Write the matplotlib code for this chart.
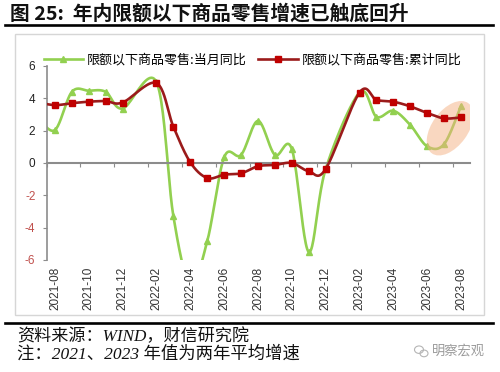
import numpy as np
import matplotlib
matplotlib.use("Agg")
from matplotlib import pyplot as plt
from matplotlib.lines import Line2D
from matplotlib.patches import Ellipse, Rectangle
from matplotlib.transforms import IdentityTransform

plt.rcParams['font.family'] = ['Liberation Sans', 'Noto Sans CJK SC', 'DejaVu Sans']

# monthly categories, 2021-07 sits just outside the left edge
months = ['2021-07', '2021-08', '2021-09', '2021-10', '2021-11', '2021-12',
          '2022-01', '2022-02', '2022-03', '2022-04', '2022-05', '2022-06',
          '2022-07', '2022-08', '2022-09', '2022-10', '2022-11', '2022-12',
          '2023-01', '2023-02', '2023-03', '2023-04', '2023-05', '2023-06',
          '2023-07', '2023-08']
# 当月同比 (Jan folded into Feb -> nan)
monthly = [2.8, 2.04, 4.4, 4.47, 4.4, 3.37,
           np.nan, 5.0, -3.3, -7.5, -4.84, 0.35,
           0.5, 2.6, 0.5, 0.86, -5.5, -0.37,
           np.nan, 4.36, 2.86, 3.23, 2.35, 1.03,
           1.17, 3.54]
# 累计同比
cumulative = [3.75, 3.58, 3.7, 3.79, 3.83, 3.74,
              np.nan, 4.94, 2.24, 0.04, -0.93, -0.72,
              -0.64, -0.2, -0.12, 0.0, -0.51, -0.37,
              np.nan, 4.36, 3.9, 3.79, 3.5, 3.09,
              2.76, 2.82]
label_monthly = '限额以下商品零售:当月同比'
label_cumul = '限额以下商品零售:累计同比'
yticks = [-6, -4, -2, 0, 2, 4, 6]

green = '#92D050'
red_line = '#9B1B1B'
red_mark = '#C00000'


def smooth(xs, ys, n=24):
    # excel-like smoothed line: bezier with catmull-rom control points
    pts = np.column_stack([xs, ys])
    out = []
    for i in range(len(pts) - 1):
        p0 = pts[i - 1] if i > 0 else pts[i]
        p1 = pts[i]
        p2 = pts[i + 1]
        p3 = pts[i + 2] if i + 2 < len(pts) else pts[i + 1]
        c1 = p1 + (p2 - p0) / 6
        c2 = p2 - (p3 - p1) / 6
        t = np.linspace(0, 1, n)[:, None]
        seg = (1 - t) ** 3 * p1 + 3 * (1 - t) ** 2 * t * c1 + 3 * (1 - t) * t ** 2 * c2 + t ** 3 * p2
        out.append(seg if i == 0 else seg[1:])
    return np.vstack(out)


idx = np.arange(len(months)) - 1  # 2021-08 -> 0
fig = plt.figure(figsize=(5, 3.72), dpi=100)

# frame, rules
fig.patches.append(Rectangle((0.03, 0.153), 0.938, 0.755, transform=fig.transFigure,
                             fill=False, edgecolor='#D6D6D6', lw=1))
fig.add_artist(Line2D([0.01, 0.986], [0.933, 0.933], color='black', lw=1.9))
fig.add_artist(Line2D([0.01, 0.986], [0.1325, 0.1325], color='black', lw=1.9))

fig.text(0.02, 0.963, '图 25:  年内限额以下商品零售增速已触底回升', fontsize=14.2,
         fontweight='bold', va='center', ha='left', family=['Noto Sans CJK SC'], color='#111111')

ax = fig.add_axes([0.093, 0.3011, 0.846, 0.5215])
ax.set_xlim(-0.5, 24.5)
ax.set_ylim(-6, 6)

g = np.array(monthly)
r = np.array(cumulative)
mg = ~np.isnan(g)
mr = ~np.isnan(r)
sg = smooth(idx[mg], g[mg])
sr = smooth(idx[mr], r[mr])
ax.plot(sg[:, 0], sg[:, 1], color=green, lw=1.9, zorder=2)
ax.plot(idx[mg], g[mg], ls='none', marker='^', ms=4.5, color=green, zorder=2)
ax.plot(sr[:, 0], sr[:, 1], color=red_line, lw=1.9, zorder=4)
ax.plot(idx[mr], r[mr], ls='none', marker='s', ms=5, color=red_mark, zorder=4)

# highlight ellipse around the latest rebound
cx, cy = ax.transData.transform((23.35, 2.15))
ax.add_patch(Ellipse((cx, cy), 62, 36, angle=54, transform=IdentityTransform(),
                     facecolor='#F4B183', edgecolor='none', alpha=0.5, zorder=3))

for s in ['top', 'right']:
    ax.spines[s].set_visible(False)
ax.spines['left'].set_color('#8C8C8C')
ax.spines['left'].set_linewidth(1.2)
ax.spines['bottom'].set_position(('data', 0))
ax.spines['bottom'].set_color('#8C8C8C')
ax.spines['bottom'].set_linewidth(1.5)

ax.set_xticks(np.arange(-0.5, 24, 2))
ax.tick_params(axis='x', direction='out', length=3, color='#8C8C8C', labelbottom=False)
ax.set_yticks(yticks)
ax.set_yticklabels([str(v) for v in yticks])
ax.tick_params(axis='y', direction='out', length=3, color='#8C8C8C', labelsize=8.5, pad=5)
for lab, v in zip(ax.get_yticklabels(), yticks):
    lab.set_color('#C0504D' if v < 0 else '#222222')

sec = ax.secondary_xaxis(0.0)
sec.set_xticks(idx[1::2], months[1::2])
sec.tick_params(length=0, pad=5, labelsize=8.5, labelcolor='#333333')
for lab in sec.get_xticklabels():
    lab.set_rotation(90)
sec.spines['bottom'].set_visible(False)

handles = [Line2D([], [], color=green, lw=1.9, marker='^', ms=4.5),
           Line2D([], [], color=red_line, lw=1.9, marker='s', ms=5, mfc=red_mark, mec=red_mark)]
fig.legend(handles, [label_monthly, label_cumul], loc='center', bbox_to_anchor=(0.505, 0.839),
           ncol=2, frameon=False, handlelength=3.0, handletextpad=0.3,
           columnspacing=0.9, numpoints=1, prop={'family': ['Noto Sans CJK SC'], 'size': 9.4})

foot = ['Liberation Serif', 'Noto Sans CJK SC']
fig.text(0.034, 0.094, '资料来源：WIND，财信研究院', fontsize=12.3, style='italic',
         va='center', ha='left', family=foot, color='#111111')
fig.text(0.034, 0.048, '注：2021、2023 年值为两年平均增速', fontsize=12.5, style='italic',
         va='center', ha='left', family=foot, color='#111111')

# watermark
fig.text(0.864, 0.056, '明察宏观', fontsize=9.5, color='#9A9A9A', va='center', ha='left',
         family=['Noto Sans CJK SC'])
fig.patches.append(Ellipse((0.838, 0.060), 0.018, 0.020, transform=fig.transFigure,
                           fill=False, edgecolor='#B5B5B5', lw=0.8))
fig.patches.append(Ellipse((0.848, 0.050), 0.016, 0.018, transform=fig.transFigure,
                           fill=False, edgecolor='#B5B5B5', lw=0.8))

fig.savefig('out.png', dpi=100)
